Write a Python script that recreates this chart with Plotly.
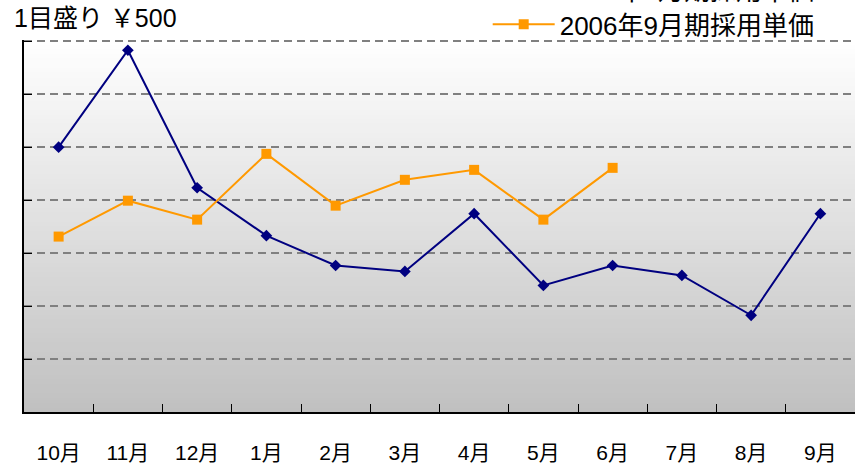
import plotly.graph_objects as go

months = ["10月", "11月", "12月", "1月", "2月", "3月", "4月", "5月", "6月", "7月", "8月", "9月"]
series_2005_name = "2005年9月期採用単価"
series_2005 = [2500, 3415, 2117, 1665, 1383, 1327, 1872, 1195, 1383, 1289, 913, 1872]
series_2006_name = "2006年9月期採用単価"
series_2006 = [1656, 1995, 1816, 2437, 1948, 2192, 2286, 1816, 2305]
y_step = 500
y_max = 3500
title_text = "1目盛り ￥500"

FONT = "Liberation Sans, Arial, Noto Sans CJK JP, sans-serif"

fig = go.Figure()
fig.add_trace(go.Scatter(
    x=months, y=series_2005, name=series_2005_name, mode="lines+markers",
    line=dict(color="#000080", width=2),
    marker=dict(symbol="diamond", size=9, color="#000080"),
    legend="legend2",
))
fig.add_trace(go.Scatter(
    x=months[:len(series_2006)], y=series_2006, name=series_2006_name, mode="lines+markers",
    line=dict(color="#FF9900", width=2),
    marker=dict(symbol="square", size=10, color="#FF9900"),
    legend="legend",
))

# vertical gradient background
n = 80
shapes = []
top = (255, 255, 255)
bot = (192, 192, 192)
for i in range(n):
    t = (i + 0.5) / n
    c = tuple(round(bot[k] + (top[k] - bot[k]) * t) for k in range(3))
    shapes.append(dict(type="rect", xref="x domain", yref="y domain",
                       x0=0, x1=1, y0=i / n, y1=(i + 1) / n + 0.002,
                       fillcolor="rgb(%d,%d,%d)" % c, line=dict(width=0), layer="below"))

legend_common = dict(xanchor="left", yanchor="bottom",
                     font=dict(size=26, family=FONT, color="black"),
                     bgcolor="rgba(0,0,0,0)", itemwidth=62, tracegroupgap=0)

fig.update_layout(
    width=863, height=465,
    margin=dict(l=24, r=8, t=40, b=53, autoexpand=False),
    paper_bgcolor="white", plot_bgcolor="rgba(0,0,0,0)",
    font=dict(family=FONT, size=20, color="black"),
    shapes=shapes,
    showlegend=True,
    legend=dict(x=0.558, y=0.9786, **legend_common),
    legend2=dict(x=0.558, y=1.072, **legend_common),
    annotations=[dict(text=title_text, xref="paper", yref="paper", x=-0.014, y=1.059,
                      xanchor="left", yanchor="middle", showarrow=False,
                      font=dict(size=25, family=FONT, color="black"))],
)
fig.update_xaxes(
    type="category", categoryorder="array", categoryarray=months,
    range=[-0.5, len(months) - 0.5],
    showline=True, linecolor="black", linewidth=1.5,
    ticks="inside", ticklen=8, tickcolor="black", tickwidth=1, tickson="boundaries",
    showgrid=False, ticklabelstandoff=21,
    tickfont=dict(size=21, family=FONT, color="black"),
)
fig.update_yaxes(
    range=[0, y_max + 12], dtick=y_step, tick0=0,
    showline=True, linecolor="black", linewidth=1.5,
    ticks="inside", ticklen=8, tickcolor="black",
    showticklabels=False,
    showgrid=True, gridcolor="#808080", gridwidth=1.5, griddash="8px,5px",
    zeroline=False,
)
fig.write_html("out.html", config={"displayModeBar": False},
               post_script="document.body.style.margin='0px';")
